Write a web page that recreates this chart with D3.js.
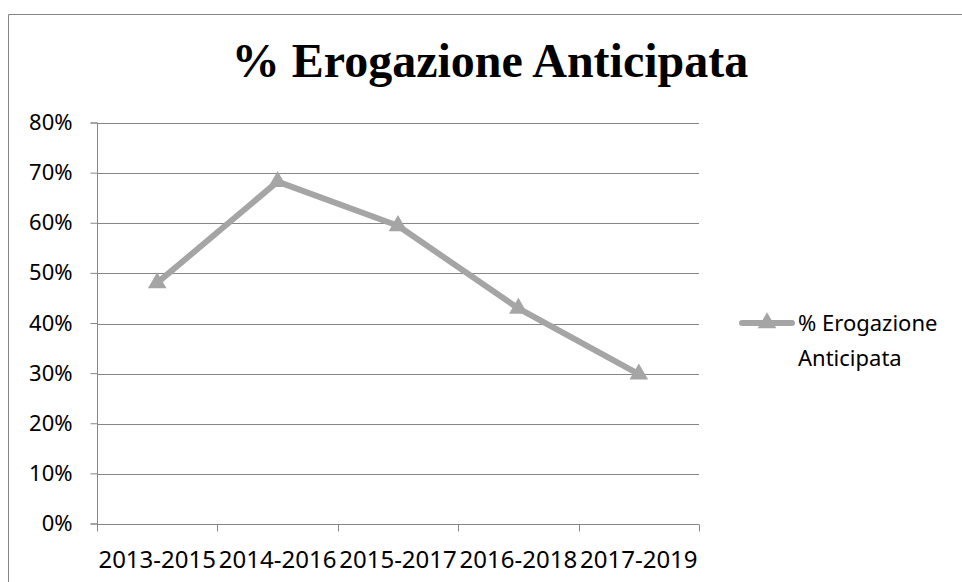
<!DOCTYPE html>
<html>
<head>
<meta charset="utf-8">
<script src="https://cdn.jsdelivr.net/npm/d3@7"></script>
<style>
  html, body { margin: 0; background: #fff; overflow: hidden; }
  svg { display: block; }
  text { font-family: "Noto Sans", sans-serif; fill: #000; }
</style>
</head>
<body>
<script>
var categories = ["2013-2015", "2014-2016", "2015-2017", "2016-2018", "2017-2019"];
var values = [0.481, 0.683, 0.595, 0.430, 0.299];
var yTicks = [0, 0.1, 0.2, 0.3, 0.4, 0.5, 0.6, 0.7, 0.8];
var seriesName = "% Erogazione Anticipata";

var W = 962, H = 582;
var margin = {top: 123, right: 263, bottom: 58, left: 97},
    width = W - margin.left - margin.right,
    height = H - margin.top - margin.bottom;

var lineGray = "#868686", seriesColor = "#A5A5A5";

var root = d3.select("body").append("svg")
  .attr("width", W)
  .attr("height", H);

// outer frame (only top and left edges are inside the picture)
root.append("path")
  .attr("d", "M8.5," + H + "V14.5H" + W)
  .attr("fill", "none")
  .attr("stroke", lineGray);

// title
root.append("text")
  .attr("x", 490).attr("y", 77)
  .attr("text-anchor", "middle")
  .style("font-family", "'Liberation Serif', 'Times New Roman', serif")
  .style("font-weight", "bold")
  .style("font-size", "48px")
  .text(seriesName);

var svg = root.append("g")
  .attr("transform", "translate(" + margin.left + "," + margin.top + ")");

var x = d3.scaleBand()
  .domain(categories)
  .range([0, width])
  .padding(0);

var y = d3.scaleLinear()
  .domain([0, 0.8])
  .range([height, 0]);

// gridlines
svg.append("g")
  .selectAll("line")
  .data(yTicks.slice(1))
  .enter().append("line")
    .attr("x1", 0).attr("x2", width)
    .attr("y1", function(d) { return Math.round(y(d)) + 0.5; })
    .attr("y2", function(d) { return Math.round(y(d)) + 0.5; })
    .attr("stroke", lineGray);

// y axis
var yAxis = svg.append("g")
  .attr("transform", "translate(0.5,0)")
  .call(d3.axisLeft(y).tickValues(yTicks).tickFormat(d3.format(".0%")).tickSize(7).tickPadding(18).offset(0));
yAxis.select(".domain").attr("stroke", lineGray);
yAxis.selectAll(".tick line").attr("stroke", lineGray);
yAxis.selectAll("text").style("font-size", "22px").attr("fill", "#000");

// x axis: labels centred, ticks on category boundaries
var xAxis = svg.append("g")
  .attr("transform", "translate(0," + (height + 0.5) + ")")
  .call(d3.axisBottom(x).tickSize(0).tickPadding(26).offset(0));
xAxis.select(".domain").attr("stroke", lineGray);
xAxis.selectAll("text").style("font-size", "24px").attr("fill", "#000");

var edges = categories.map(function(d) { return x(d); }).concat([x.range()[1]]);
xAxis.selectAll(".edge")
  .data(edges)
  .enter().append("line")
    .attr("class", "edge")
    .attr("x1", function(d) { return Math.round(d) + 0.5; })
    .attr("x2", function(d) { return Math.round(d) + 0.5; })
    .attr("y1", 0).attr("y2", 7)
    .attr("stroke", lineGray);

// series line
var line = d3.line()
  .x(function(d, i) { return x(categories[i]) + x.bandwidth() / 2; })
  .y(function(d) { return y(d); });

svg.append("path")
  .datum(values)
  .attr("d", line)
  .attr("fill", "none")
  .attr("stroke", seriesColor)
  .attr("stroke-width", 6)
  .attr("stroke-linejoin", "round");

var tri = d3.symbol().type(d3.symbolTriangle).size(150);

svg.selectAll(".marker")
  .data(values)
  .enter().append("path")
    .attr("class", "marker")
    .attr("d", tri)
    .attr("transform", function(d, i) {
      return "translate(" + (x(categories[i]) + x.bandwidth() / 2) + "," + y(d) + ")";
    })
    .attr("fill", seriesColor);

// legend
var legend = root.append("g").attr("transform", "translate(739,323)");
legend.append("line")
  .attr("x1", 3).attr("x2", 53)
  .attr("y1", 0).attr("y2", 0)
  .attr("stroke", seriesColor)
  .attr("stroke-width", 6)
  .attr("stroke-linecap", "round");
legend.append("path")
  .attr("d", tri)
  .attr("transform", "translate(28,0)")
  .attr("fill", seriesColor);
legend.append("text")
  .attr("x", 59).attr("y", 8)
  .style("font-size", "22px")
  .text("% Erogazione");
legend.append("text")
  .attr("x", 59).attr("y", 43)
  .style("font-size", "22px")
  .text("Anticipata");
</script>
</body>
</html>
